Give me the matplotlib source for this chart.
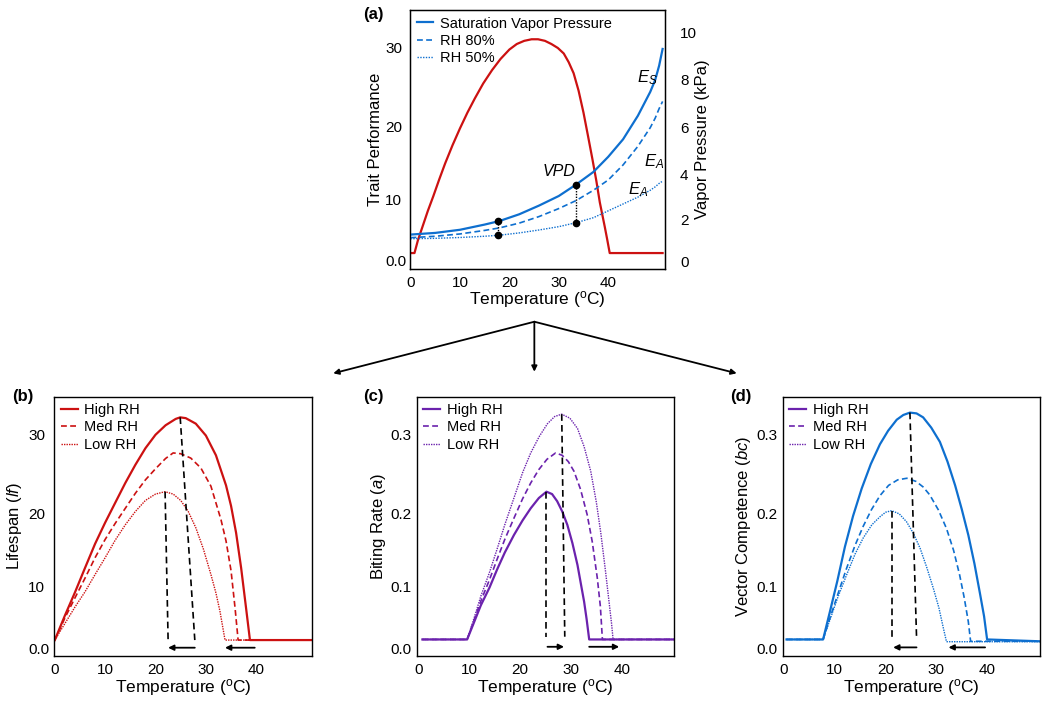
import numpy as np
import matplotlib
matplotlib.use("Agg")
import matplotlib.pyplot as plt
from matplotlib.lines import Line2D
from matplotlib.patches import FancyArrowPatch

plt.rcParams['font.family'] = ['Liberation Sans', 'DejaVu Sans']
plt.rcParams['mathtext.fontset'] = 'custom'
plt.rcParams['mathtext.rm'] = 'Liberation Sans'
plt.rcParams['mathtext.it'] = 'Liberation Sans:italic'
plt.rcParams['mathtext.bf'] = 'Liberation Sans:bold'

RED = '#cc1111'
PURPLE = '#6b22ad'
BLUE = '#0e6fcf'

# ---- (a) trait performance + vapour pressure ----
temp_trait = [0, 0.8, 1.5, 2.5, 3.5, 4.6, 5.8, 7.0, 8.5, 10.0, 11.5, 13.0, 14.7, 16.5,
              18.2, 20.0, 21.5, 23.0, 24.5, 25.8, 27.2, 28.5, 29.8, 31.0, 32.0, 33.0,
              34.0, 35.0, 35.9, 36.8, 37.6, 38.3, 38.8, 39.3, 39.8, 40.3, 51.0]
trait = [1.3, 1.3, 3.4, 5.8, 8.2, 10.5, 12.8, 15.0, 17.5, 19.8, 21.8, 23.6, 25.5, 27.2,
         28.6, 29.8, 30.5, 30.9, 31.1, 31.1, 30.9, 30.5, 30.0, 29.3, 28.2, 26.8,
         24.6, 21.8, 18.8, 15.6, 12.6, 9.6, 7.6, 5.6, 3.5, 1.3, 1.3]

temp_vp = [0, 5, 10, 15, 18, 22, 26, 30, 33.5, 37, 40, 43, 46, 48.5, 49.5, 50.3, 51]
vp_sat = [1.3, 1.38, 1.53, 1.78, 1.95, 2.25, 2.63, 3.05, 3.55, 4.1, 4.75, 5.5, 6.5, 7.5, 8.0, 8.6, 9.3]
vp_rh80 = [1.15, 1.22, 1.33, 1.5, 1.62, 1.85, 2.15, 2.5, 2.85, 3.3, 3.75, 4.4, 5.2, 6.0, 6.4, 6.8, 7.1]
vp_rh50 = [1.1, 1.12, 1.16, 1.22, 1.27, 1.38, 1.52, 1.68, 1.87, 2.1, 2.4, 2.7, 3.0, 3.3, 3.45, 3.6, 3.7]
vpd_temps = [17.7, 33.5]

# ---- (b) lifespan ----
b_high_t = [0, 2, 4, 6, 8, 10, 12, 14, 16, 18, 20, 22, 24, 24.9, 26, 28, 30, 32, 34, 35,
            36, 37, 38, 38.75, 51]
b_high = [1.3, 5.3, 9.1, 12.6, 15.9, 18.8, 21.4, 23.9, 26.2, 28.3, 30.0, 31.2, 32.0, 32.2,
          32.1, 31.4, 29.9, 27.4, 23.6, 21.0, 17.4, 12.6, 6.4, 1.3, 1.3]
b_med_t = [0, 2, 4, 6, 8, 10, 12, 14, 16, 18, 20, 22, 23.5, 25, 27, 29, 31, 33, 34, 35,
           35.8, 36.4, 51]
b_med = [1.3, 4.9, 8.2, 11.2, 14.0, 16.5, 18.7, 20.7, 22.6, 24.3, 25.7, 27.0, 27.7, 27.6,
         27.05, 25.8, 23.5, 19.2, 16.3, 12.2, 6.5, 1.3, 1.3]
b_low_t = [0, 2, 4, 6, 8, 10, 12, 14, 16, 18, 20, 21.9, 23.5, 25, 26.5, 28, 29.5, 31, 32,
           32.8, 33.8, 51]
b_low = [1.3, 4.0, 6.7, 9.2, 11.7, 14.0, 16.4, 18.5, 20.3, 21.7, 22.5, 22.8, 22.5, 21.7,
         20.3, 18.1, 15.2, 11.7, 9.0, 6.0, 1.3, 1.3]

# ---- (c) biting rate ----
c_high_t = [0.8, 9.6, 11, 12.3, 14, 15.5, 17, 18.8, 20.5, 22.1, 23.7, 25.2, 26.3, 27.3,
            28.3, 29.3, 30.3, 31.3, 32.0, 32.6, 33.1, 33.6, 50.3]
c_high = [0.014, 0.014, 0.043, 0.07, 0.099, 0.124, 0.147, 0.171, 0.191, 0.207, 0.220, 0.228,
          0.225, 0.216, 0.203, 0.185, 0.160, 0.130, 0.103, 0.076, 0.047, 0.014, 0.014]
c_med_t = [0.8, 9.6, 11, 12.3, 14, 15.5, 17, 18.8, 20.5, 22.1, 23.7, 25.3, 27.0, 28.3,
           29.5, 30.6, 31.9, 33.2, 34.2, 35.2, 35.8, 36.2, 50.3]
c_med = [0.014, 0.014, 0.046, 0.077, 0.11, 0.138, 0.165, 0.194, 0.219, 0.239, 0.256, 0.269,
         0.277, 0.274, 0.266, 0.254, 0.231, 0.199, 0.162, 0.112, 0.068, 0.014, 0.014]
c_low_t = [0.8, 9.6, 11, 12.3, 14, 15.5, 17, 18.8, 20.5, 22.1, 23.8, 25.4, 26.8, 28.2,
           29.8, 31.3, 32.6, 33.9, 35.0, 35.9, 36.8, 37.5, 38.0, 38.3, 50.3]
c_low = [0.014, 0.014, 0.05, 0.085, 0.12, 0.152, 0.185, 0.22, 0.252, 0.277, 0.298, 0.314,
         0.323, 0.326, 0.321, 0.308, 0.285, 0.254, 0.215, 0.173, 0.122, 0.076, 0.040, 0.014,
         0.014]

# ---- (d) vector competence ----
d_high_t = [0.5, 7.7, 9, 10.5, 12.0, 13.6, 15.3, 17.1, 18.9, 20.5, 22.2, 23.5, 24.8, 26.1,
            27.4, 29, 30.7, 32.2, 33.7, 35, 36.3, 37.5, 38.6, 39.4, 40.0, 50.4]
d_high = [0.014, 0.014, 0.058, 0.108, 0.155, 0.197, 0.232, 0.263, 0.288, 0.305, 0.319,
          0.325, 0.328, 0.327, 0.322, 0.309, 0.291, 0.266, 0.236, 0.206, 0.171, 0.132,
          0.089, 0.052, 0.014, 0.011]
d_med_t = [0.5, 7.7, 9, 10.6, 12.3, 14, 15.6, 17.2, 18.9, 20.6, 22.4, 24.2, 26, 27.4, 28.7,
           30.4, 32.0, 33.4, 34.6, 35.5, 36.3, 36.75, 50.4]
d_med = [0.014, 0.014, 0.048, 0.088, 0.125, 0.157, 0.183, 0.205, 0.223, 0.236, 0.243, 0.245,
         0.241, 0.234, 0.224, 0.205, 0.180, 0.150, 0.116, 0.082, 0.043, 0.011, 0.011]
d_low_t = [0.5, 7.7, 9, 10.6, 12.3, 14, 15.6, 17.3, 18.9, 20, 21.2, 22.7, 24.15, 25.5, 26.8,
           28.1, 29.4, 30.5, 31.4, 32.0, 50.4]
d_low = [0.014, 0.014, 0.045, 0.083, 0.116, 0.145, 0.167, 0.185, 0.196, 0.202, 0.204, 0.200,
         0.189, 0.173, 0.153, 0.127, 0.098, 0.066, 0.032, 0.0103, 0.0103]

rh_labels = ['High RH', 'Med RH', 'Low RH']
x_ticks = [0, 10, 20, 30, 40]


def piecewise(knots_v, knots_p):
    knots_v = np.asarray(knots_v, float)
    knots_p = np.asarray(knots_p, float)

    def fwd(v):
        return np.interp(v, knots_v, knots_p)

    def inv(p):
        return np.interp(p, knots_p, knots_v)
    return fwd, inv


def trait_axis(ax, k, labels):
    fwd, inv = piecewise(np.array([-100, 0, 10, 20, 30, 100]) * k,
                         [-602, 8, 69, 142, 221, 774])
    ax.set_yscale('function', functions=(fwd, inv))
    ax.set_ylim(inv(0), inv(259))
    ax.set_yticks(np.array([0, 10, 20, 30]) * k, labels, ha='left')
    ax.tick_params(axis='y', pad=18.7)


def style(ax, xlim):
    ax.set_xlim(*xlim)
    ax.set_xticks(x_ticks)
    ax.tick_params(length=0, labelsize=11)
    ax.tick_params(axis='x', pad=5)
    for s in ax.spines.values():
        s.set_linewidth(1.0)
    ax.set_xlabel('Temperature ($^{\\mathrm{o}}$C)', fontsize=12.5)
    ax.xaxis.label.set_va('center')


def legend(ax, handles=None):
    kw = dict(loc='upper left', frameon=False, fontsize=10.5, handlelength=1.15,
              handletextpad=0.45, labelspacing=0.22, borderaxespad=0.15, borderpad=0.3)
    if handles is None:
        ax.legend(**kw)
    else:
        ax.legend(handles=handles, **kw)


def peak_marks(ax, t, y, x_bottom, y_bottom, arrows, y_arrow):
    for tt, yy, xb in zip(t, y, x_bottom):
        i = int(np.argmax(yy))
        ax.plot([tt[i], xb], [yy[i], y_bottom], color='black', lw=1.2, ls=(0, (4, 2.5)))
    for x0, x1 in arrows:
        ax.annotate('', xy=(x1, y_arrow), xytext=(x0, y_arrow),
                    arrowprops=dict(arrowstyle='-|>', color='black', lw=1.3,
                                    mutation_scale=8, shrinkA=0, shrinkB=0))


fig = plt.figure(figsize=(10.5, 7.06), dpi=100)

# ---------- (a) ----------
ax = fig.add_axes([0.3905, 0.619, 0.2429, 0.3669])
ax.plot(temp_trait, trait, color=RED, lw=1.6)
trait_axis(ax, 1, ['0.0', '10', '20', '30'])
style(ax, (-0.1, 51.5))
ax.tick_params(axis='y', pad=18)
ax.set_ylabel('Trait Performance', fontsize=12)
ax.yaxis.set_label_coords(-0.137, 0.5)
ax.yaxis.label.set_va('center')
ax.xaxis.set_label_coords(0.5, -0.118)

ax2 = ax.twinx()
fwd, inv = piecewise([-10, 0, 2, 4, 6, 8, 10, 20],
                     [-200.7, 7.3, 49, 94.7, 141.3, 189, 236.7, 475.2])
ax2.set_yscale('function', functions=(fwd, inv))
ax2.plot(temp_vp, vp_sat, color=BLUE, lw=1.6, label='Saturation Vapor Pressure')
ax2.plot(temp_vp, vp_rh80, color=BLUE, lw=1.2, ls=(0, (3.5, 2)), label='RH 80%')
ax2.plot(temp_vp, vp_rh50, color=BLUE, lw=1.0, ls=(0, (1, 1)), label='RH 50%')
ax2.set_ylim(inv(0), inv(259))
ax2.set_yticks([0, 2, 4, 6, 8, 10])
ax2.tick_params(length=0, labelsize=11, pad=10.8)
ax2.set_ylabel('Vapor Pressure (kPa)', fontsize=12)
ax2.yaxis.set_label_coords(1.145, 0.5)
ax2.yaxis.label.set_va('center')
legend(ax2)

for t in vpd_temps:
    ys = np.interp(t, temp_vp, vp_sat)
    ya = np.interp(t, temp_vp, vp_rh50)
    ax2.plot([t, t], [ys, ya], color='black', lw=1.0, ls=(0, (1, 1)))
    ax2.plot([t, t], [ys, ya], 'o', color='black', ms=4.5)

ax2.text(0.93, 0.737, '$E_S$', transform=ax2.transAxes, fontsize=12, ha='center', va='center')
ax2.text(0.957, 0.416, '$E_A$', transform=ax2.transAxes, fontsize=12, ha='center', va='center')
ax2.text(0.894, 0.306, '$E_A$', transform=ax2.transAxes, fontsize=12, ha='center', va='center')
ax2.text(0.584, 0.377, 'VPD', transform=ax2.transAxes, fontsize=11.5, style='italic',
         ha='center', va='center')

# ---------- (b) ----------
axb = fig.add_axes([0.0517, 0.0708, 0.2451, 0.3673])
axb.plot(b_high_t, b_high, color=RED, lw=1.6, label=rh_labels[0])
axb.plot(b_med_t, b_med, color=RED, lw=1.2, ls=(0, (3.5, 2)), label=rh_labels[1])
axb.plot(b_low_t, b_low, color=RED, lw=1.0, ls=(0, (1, 0.8)), label=rh_labels[2])
trait_axis(axb, 1, ['0.0', '10', '20', '30'])
style(axb, (-0.1, 51.0))
axb.set_ylabel('Lifespan ($\\mathit{lf}$)', fontsize=12)
axb.yaxis.set_label_coords(-0.153, 0.5)
axb.yaxis.label.set_va('center')
axb.xaxis.set_label_coords(0.5, -0.123)
legend(axb)
peak_marks(axb, [b_high_t, b_low_t], [b_high, b_low], [27.8, 22.5], 1.3,
           [(27.8, 22.5), (39.7, 33.8)], 0.05)

# ---------- (c) ----------
axc = fig.add_axes([0.3969, 0.0708, 0.2453, 0.3673])
axc.plot(c_high_t, c_high, color=PURPLE, lw=1.6, label=rh_labels[0])
axc.plot(c_med_t, c_med, color=PURPLE, lw=1.2, ls=(0, (3.5, 2)), label=rh_labels[1])
axc.plot(c_low_t, c_low, color=PURPLE, lw=1.0, ls=(0, (1, 0.8)), label=rh_labels[2])
trait_axis(axc, 0.01, ['0.0', '0.1', '0.2', '0.3'])
style(axc, (-0.31, 50.34))
axc.set_ylabel('Biting Rate ($\\mathit{a}$)', fontsize=12)
axc.yaxis.set_label_coords(-0.149, 0.5)
axc.yaxis.label.set_va('center')
axc.xaxis.set_label_coords(0.5, -0.123)
legend(axc)
peak_marks(axc, [c_high_t, c_low_t], [c_high, c_low], [25.2, 28.8], 0.0185,
           [(25.4, 28.65), (33.6, 39.5)], 0.002)

# ---------- (d) ----------
axd = fig.add_axes([0.7454, 0.0708, 0.2450, 0.3673])
axd.plot(d_high_t, d_high, color=BLUE, lw=1.6)
axd.plot(d_med_t, d_med, color=BLUE, lw=1.2, ls=(0, (3.5, 2)))
axd.plot(d_low_t, d_low, color=BLUE, lw=1.0, ls=(0, (1, 0.8)))
trait_axis(axd, 0.01, ['0.0', '0.1', '0.2', '0.3'])
style(axd, (-0.26, 50.4))
axd.set_ylabel('Vector Competence ($\\mathit{bc}$)', fontsize=12)
axd.yaxis.set_label_coords(-0.153, 0.5)
axd.yaxis.label.set_va('center')
axd.xaxis.set_label_coords(0.5, -0.123)
# the original legend keeps the purple keys from panel (c)
legend(axd, [Line2D([], [], color=PURPLE, lw=1.6, label=rh_labels[0]),
             Line2D([], [], color=PURPLE, lw=1.2, ls=(0, (3.5, 2)), label=rh_labels[1]),
             Line2D([], [], color=PURPLE, lw=1.0, ls=(0, (1, 0.8)), label=rh_labels[2])])
peak_marks(axd, [d_high_t, d_low_t], [d_high, d_low], [26.1, 21.2], 0.0185,
           [(26.1, 21.5), (39.6, 32.4)], 0.001)

# panel letters
for x, y, s in [(0.3457, 0.979, '(a)'), (0.0114, 0.438, '(b)'), (0.3457, 0.438, '(c)'),
                (0.6952, 0.438, '(d)')]:
    fig.text(x, y, s, fontsize=12, fontweight='bold', va='center')

# connecting arrows from (a) to the lower panels
apex = (0.5089, 0.5443)
for end in [(0.3174, 0.4712), (0.5089, 0.4735), (0.7016, 0.4712)]:
    fig.add_artist(FancyArrowPatch(apex, end, transform=fig.transFigure,
                                   arrowstyle='-|>', mutation_scale=8, lw=1.3,
                                   color='black', shrinkA=0, shrinkB=0))

fig.savefig('out.png', dpi=100)
